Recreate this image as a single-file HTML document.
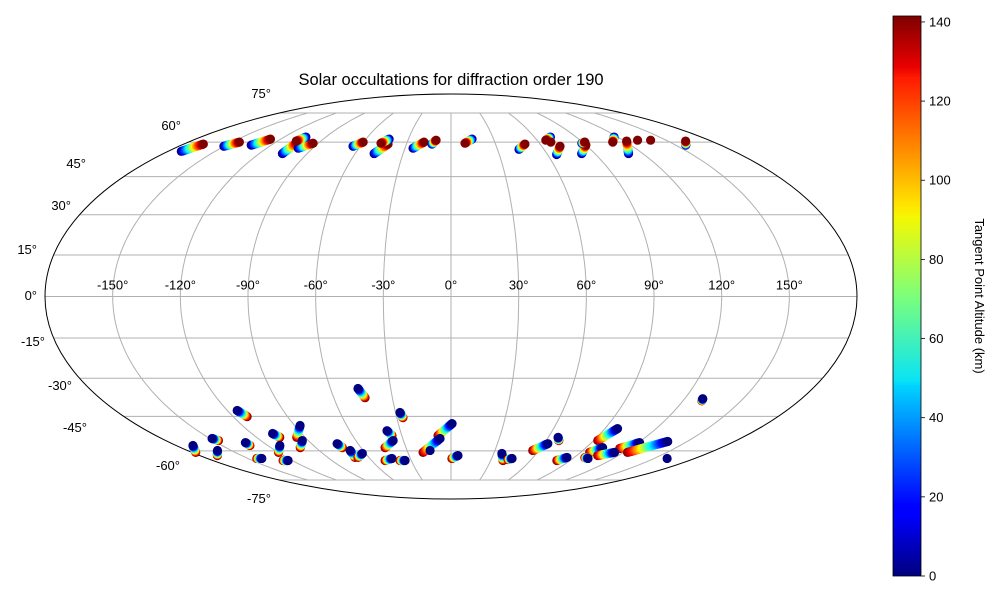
<!DOCTYPE html>
<html><head><meta charset="utf-8"><style>body{margin:0;background:#fff}svg{display:block;font-family:"Liberation Sans","DejaVu Sans",sans-serif}</style></head>
<body>
<svg id="chart" width="1000" height="600" viewBox="0 0 1000 600" xmlns="http://www.w3.org/2000/svg">
<defs>
<linearGradient id="jet" x1="0" y1="1" x2="0" y2="0">
<stop offset="0" stop-color="#00007f"/><stop offset="0.11" stop-color="#0000ff"/><stop offset="0.125" stop-color="#0000ff"/><stop offset="0.34" stop-color="#00d4ff"/><stop offset="0.35" stop-color="#0ae4f4"/><stop offset="0.5" stop-color="#7dff7a"/><stop offset="0.64" stop-color="#f4f802"/><stop offset="0.66" stop-color="#ffe600"/><stop offset="0.89" stop-color="#ff1a00"/><stop offset="0.91" stop-color="#e80000"/><stop offset="1" stop-color="#7f0000"/>
</linearGradient>
</defs>
<text x="451" y="85" font-size="16.5" text-anchor="middle">Solar occultations for diffraction order 190</text>
<g id="grid"></g>
<ellipse cx="451" cy="296.5" rx="406" ry="202.5" fill="none" stroke="#000" stroke-width="1"/>
<g id="labels" font-size="13"></g>
<g id="marks"></g>
<rect x="893" y="16" width="28" height="560" fill="url(#jet)" stroke="#000" stroke-width="0.8"/>
<g id="cbticks" font-size="13"></g>
<text transform="translate(975,296) rotate(90)" font-size="13" text-anchor="middle">Tangent Point Altitude (km)</text>
</svg>
<script>
// tracks: [lonLow, latLow, lonHigh, latHigh]  (low = 0 km end, high = top altitude end)
const trackLow = [
[-171.5,55.8],[-150.2,58.1],[-133.3,58.6],[-105.5,54.8],[-99.5,57.2],[-104.4,62.4],[-64.8,58.1],[-48.1,54.8],[-43.6,61.4],[-24.7,57.2],[-12.8,59.1],[14.8,61.4],[43.9,56.7],[71.5,62.4],[65.7,54.4],[81.8,54.8],[88.8,59.5],[117.3,62.4],[111.1,54.8],[156.7,58.6],
[-46.3,-33.9],[-114.7,-42.6],[-27.6,-43.4],[0.6,-48.0],[-6.8,-54.4],[-37.9,-51.0],[-36.5,-55.3],[-86.8,-48.8],[-93.8,-55.3],[-107.4,-52.2],[-112.0,-57.5],[-148.6,-54.4],[-159.4,-59.8],[-168.9,-57.5],[-131.6,-56.2],[-139.7,-63.6],[-123.1,-64.6],[-73.5,-56.7],[-68.8,-59.8],[-62.2,-61.2],[-43.6,-63.6],[-34.7,-64.6],[5.0,-62.2],[35.7,-61.2],[45.1,-63.6],[62.5,-56.7],[66.1,-53.9],[84.7,-63.1],[97.4,-50.1],[120.7,-56.2],[101.0,-58.5],[113.6,-60.7],[101.2,-63.6],[129.3,-37.9],[137.6,-55.7]
];
const trackHigh = [
[-166.8,59.1],[-145.0,60.0],[-127.2,61.4],[-105.3,60.0],[-93.6,59.5],[-107.0,60.5],[-60.2,60.0],[-42.4,59.1],[-47.5,59.5],[-18.5,60.0],[-10.4,60.9],[9.5,59.5],[49.8,59.1],[66.1,60.9],[72.1,58.1],[90.0,58.6],[91.7,60.0],[110.8,60.0],[121.5,60.5],[162.3,60.5],
[-44.0,-37.5],[-112.3,-45.1],[-26.6,-45.5],[-7.9,-53.1],[-19.4,-60.7],[-36.0,-53.1],[-43.9,-58.5],[-95.2,-53.9],[-100.4,-58.5],[-105.7,-53.9],[-119.8,-60.7],[-146.7,-55.3],[-167.3,-62.2],[-177.3,-60.7],[-131.6,-57.5],[-143.4,-63.6],[-126.9,-64.6],[-72.4,-58.5],[-70.1,-63.1],[-67.9,-63.1],[-49.8,-64.6],[-38.5,-64.6],[0.7,-63.6],[39.3,-64.6],[42.6,-64.1],[55.8,-59.8],[68.0,-55.3],[80.0,-64.6],[92.6,-55.3],[113.2,-58.9],[96.3,-60.7],[105.1,-62.2],[98.0,-63.2],[129.7,-38.7],[122.6,-60.7]
];
const singlePointsLon = [130.1,139.2,68.4,159.6,-14.3];
const singlePointsLat = [60.9,60.9,60.0,-63.6,-59.8];
const cbTicks = [0,20,40,60,80,100,120,140];
const lonTicks = [-150,-120,-90,-60,-30,0,30,60,90,120,150];
const latTicks = [75,60,45,30,15,0,-15,-30,-45,-60,-75];
const latLabelPos = {75:[271,98],60:[181,130],45:[86,168],30:[71,210],15:[37,254],0:[37,300],"-15":[45,346],"-30":[72,390],"-45":[87,432],"-60":[180,470],"-75":[271,503]};
const altMax = 141.5;

const CX=451, CY=296.5, RX=406, RY=202.5;
const NS="http://www.w3.org/2000/svg";
function theta(lat){const p=Math.PI*Math.sin(lat*Math.PI/180);let t=lat*Math.PI/180;
 for(let i=0;i<50;i++){const f=2*t+Math.sin(2*t)-p;const d=2+2*Math.cos(2*t);if(Math.abs(d)<1e-9)break;t-=f/d;}return t;}
function proj(lon,lat){const t=theta(lat);return [CX+RX*(lon/180)*Math.cos(t), CY-RY*Math.sin(t)];}
function jet(v){const x=Math.max(0,Math.min(1,v));
 const r=Math.min(1,Math.max(0,1.5-Math.abs(4*x-3))),g=Math.min(1,Math.max(0,1.5-Math.abs(4*x-2))),b=Math.min(1,Math.max(0,1.5-Math.abs(4*x-1)));
 return `rgb(${Math.round(r*255)},${Math.round(g*255)},${Math.round(b*255)})`;}
function el(tag,attrs,parent){const e=document.createElementNS(NS,tag);for(const k in attrs)e.setAttribute(k,attrs[k]);parent.appendChild(e);return e;}

const grid=document.getElementById('grid');
latTicks.forEach(lat=>{if(lat===0)return;const a=proj(-180,lat),b=proj(180,lat);
 const l=el('line',{x1:a[0],y1:a[1],x2:b[0],y2:b[1],stroke:'#b0b0b0','stroke-width':1},grid);
 
 });
{const a=proj(-180,0),b=proj(180,0);const l=el('line',{x1:a[0],y1:a[1],x2:b[0],y2:b[1],stroke:'#b0b0b0','stroke-width':1},grid);
 
 }
lonTicks.forEach(lon=>{let d='';for(let lat=-75;lat<=75;lat+=1){const p=proj(lon,lat);d+=(lat===-75?'M':'L')+p[0].toFixed(1)+','+p[1].toFixed(1);}
 const pth=el('path',{d:d,fill:'none',stroke:'#b0b0b0','stroke-width':1},grid);
 
 });

const labels=document.getElementById('labels');
lonTicks.forEach(lon=>{const p=proj(lon,0);const t=el('text',{x:p[0],y:p[1]-7,'text-anchor':'middle'},labels);t.textContent=lon+'°';
 
 });
latTicks.forEach(lat=>{const pos=latLabelPos[lat];const t=el('text',{x:pos[0],y:pos[1],'text-anchor':'end'},labels);t.textContent=lat+'°';
 
 });

const marks=document.getElementById('marks');
trackLow.forEach((lo,i)=>{const hi=trackHigh[i];const a=proj(lo[0],lo[1]),b=proj(hi[0],hi[1]);
 const len=Math.hypot(b[0]-a[0],b[1]-a[1]);const n=Math.max(8,Math.round(len/1.2));
 const g=el('g',{},marks);
 
 
 const north=lo[1]>0;
 for(let j=0;j<=n;j++){const k=north?j:n-j;const f=k/n;const alt=f*altMax;
  el('circle',{cx:a[0]+(b[0]-a[0])*f,cy:a[1]+(b[1]-a[1])*f,r:4.6,fill:jet(alt/altMax)},g);}
});
singlePointsLon.forEach((lon,i)=>{const p=proj(lon,singlePointsLat[i]);
 const c=el('circle',{cx:p[0],cy:p[1],r:4.6,fill:i<3?jet(1):jet(0)},marks);
 
 });

const cb=document.getElementById('cbticks');
cbTicks.forEach(v=>{const y=576-v/altMax*560;
 const l=el('line',{x1:921,y1:y,x2:925,y2:y,stroke:'#000','stroke-width':0.8},cb);
 
 
 const t=el('text',{x:929,y:y+4.5},cb);t.textContent=v;
 
 });
</script>
</body></html>
